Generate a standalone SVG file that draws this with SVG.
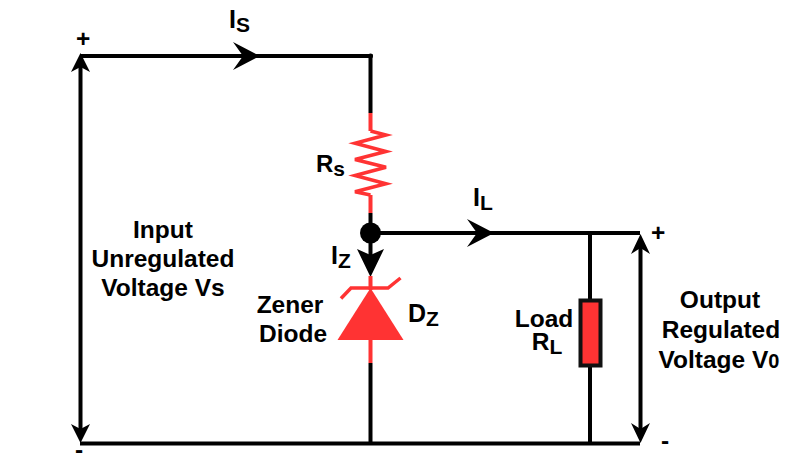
<svg xmlns="http://www.w3.org/2000/svg" width="800" height="463" viewBox="0 0 800 463">
<style>
text{font-family:"Liberation Sans",Arial,sans-serif;font-weight:700;fill:#000;font-size:24.5px}
.c{text-anchor:middle}
.w{fill:none;stroke:#000;stroke-width:4}
.r{fill:none;stroke:#ff3333;stroke-width:4}
.z{fill:none;stroke:#ff3333;stroke-width:3.500}
.a{fill:#000;stroke:none}
.s{font-size:21px}
</style>
<defs>
<path id="ah" class="a" d="M0 0L-27 -14L-17 0L-27 14Z"/>
</defs>
<rect width="800" height="463" fill="#fff"/>
<g id="connectors">
<path class="w" d="M80 56H370.500V113"/>
<path class="w" d="M370.500 213V262"/>
<path class="w" d="M370.500 233H640"/>
<path class="w" d="M370.500 363V443"/>
<path class="w" d="M80 443.500H640"/>
<path class="w" d="M80.500 60V436"/>
<path class="w" d="M640.500 240V436"/>
<path class="w" d="M590 233V299"/>
<path class="w" d="M590 367V443"/>
<use href="#ah" transform="translate(260 56)"/>
<use href="#ah" transform="translate(494 233)"/>
<path class="a" d="M370.500 277L357 249L370.500 255L384 249Z"/>
<path class="a" d="M80.500 53L71 72L80.500 67L90 72Z"/>
<path class="a" d="M80.500 443L71 424L80.500 429L90 424Z"/>
<path class="a" d="M640.500 234L631 254L640.500 248L650 254Z"/>
<path class="a" d="M640.500 443L631 423L640.500 429L650 423Z"/>
<circle cx="370.500" cy="56" r="2.500" fill="#000"/>
</g>
<g id="rs">
<path class="r" d="M370.500 113V131M370.500 195V213"/>
<path class="z" d="M370.500 131L386 135L355 143.300L386 151.500L355 159.500L386 167.300L355 175.500L386 183.700L355 191.700L370.500 195"/>
<text x="316" y="172" style="font-size:24px">R<tspan class="s" dy="4">s</tspan></text>
</g>
<g id="junction"><circle cx="370.500" cy="233" r="10.500" fill="#000"/></g>
<g id="dz">
<path class="r" d="M370.500 276V290M370.500 338V363"/>
<path class="z" d="M341 298.500L351 288H388L400.500 278"/>
<path fill="#ff3333" d="M370.500 288L403.500 340H337.500Z"/>
<text x="290" y="313" class="c">Zener</text>
<text x="293" y="342" class="c">Diode</text>
<text x="408" y="322" style="font-size:25px">D<tspan class="s" dy="4">Z</tspan></text>
</g>
<g id="load">
<rect x="580.500" y="300.500" width="20" height="65" fill="#ff3333" stroke="#111" stroke-width="4"/>
<text y="327" class="c"><tspan x="544">Load</tspan><tspan x="547" y="350">R</tspan><tspan class="s" dy="4">L</tspan></text>
</g>
<g id="labels">
<text x="229" y="28" style="font-size:25px">I<tspan class="s" dy="4">S</tspan></text>
<text x="473" y="206" style="font-size:25px">I<tspan class="s" dy="4">L</tspan></text>
<text x="331" y="264" style="font-size:25px">I<tspan class="s" dy="4">Z</tspan></text>
<text x="76" y="47">+</text>
<text x="651" y="241">+</text>
<text x="75" y="458">-</text>
<text x="661" y="449">-</text>
<text x="163" y="238" class="c">Input</text>
<text x="163" y="267" class="c">Unregulated</text>
<text x="163" y="296" class="c">Voltage Vs</text>
<text x="720" y="308" class="c">Output</text>
<text x="721" y="338" class="c">Regulated</text>
<text x="719" y="368" class="c">Voltage V<tspan style="font-size:20px">0</tspan></text>
</g>
</svg>
